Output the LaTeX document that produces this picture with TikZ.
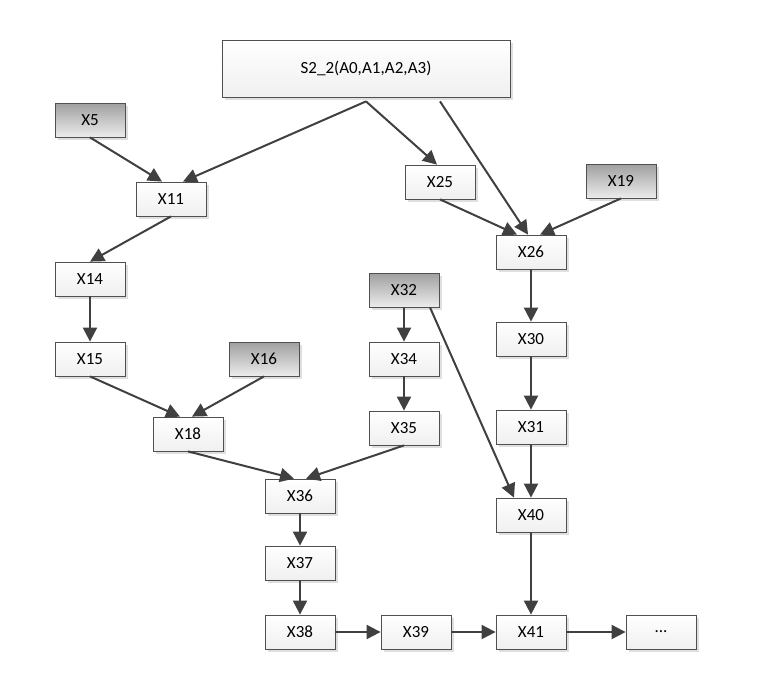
\documentclass[tikz,border=0pt]{standalone}
\usepackage{fontspec}
\setmainfont{Carlito}
\usetikzlibrary{arrows.meta,shadows}
\definecolor{edge}{HTML}{404040}
\definecolor{bord}{HTML}{505050}
\tikzset{
  x=1pt,y=-1pt,
  wbox/.style={draw=bord,line width=0.8pt,minimum width=70pt,minimum height=34pt,inner sep=0pt,
    top color=white,bottom color=gray!12,font=\fontsize{17}{20}\selectfont,
    drop shadow={shadow xshift=2.5pt,shadow yshift=-2.5pt,fill=gray!50,opacity=0.5}},
  gbox/.style={wbox,top color=gray!75,bottom color=gray!15},
  conn/.style={draw=edge,line width=2pt,-{Triangle[length=14pt,width=14pt]}}
}
\begin{document}
\begin{tikzpicture}
\useasboundingbox (0,0) rectangle (764,678);
\node[wbox,minimum width=288pt,minimum height=57pt] (s) at (366,68.5) {S2\_2(A0,A1,A2,A3)};
\node[gbox] (x5) at (90,120) {X5};
\node[wbox] (x11) at (171,199) {X11};
\node[wbox] (x25) at (440,182) {X25};
\node[gbox] (x19) at (621,181) {X19};
\node[wbox] (x26) at (531,252) {X26};
\node[wbox] (x14) at (90,279) {X14};
\node[gbox] (x32) at (404,290) {X32};
\node[wbox] (x30) at (531,339) {X30};
\node[wbox] (x15) at (90,359) {X15};
\node[gbox] (x16) at (264,359) {X16};
\node[wbox] (x34) at (404,359) {X34};
\node[wbox] (x18) at (188,434) {X18};
\node[wbox] (x35) at (404,428) {X35};
\node[wbox] (x31) at (531,427) {X31};
\node[wbox] (x36) at (300,496) {X36};
\node[wbox] (x40) at (531,515) {X40};
\node[wbox] (x37) at (300,563) {X37};
\node[wbox] (x38) at (300,632) {X38};
\node[wbox] (x39) at (416,632) {X39};
\node[wbox] (x41) at (531,632) {X41};
\node[wbox] (dots) at (661,632) {...};

\draw[conn] ([yshift=-4pt]s.south) -- ([xshift=12pt]x11.north);
\draw[conn] ([yshift=-4pt]s.south) -- ([xshift=-3pt]x25.north);
\draw[conn] ([xshift=74pt,yshift=-4pt]s.south) -- ([xshift=-3pt]x26.north);
\draw[conn] (x5.south) -- ([xshift=-9pt]x11.north);
\draw[conn] (x11.south) -- (x14.north);
\draw[conn] (x25.south) -- ([xshift=-14pt]x26.north);
\draw[conn] (x19.south) -- ([xshift=9pt]x26.north);
\draw[conn] (x14.south) -- (x15.north);
\draw[conn] (x26.south) -- (x30.north);
\draw[conn] (x30.south) -- (x31.north);
\draw[conn] (x31.south) -- (x40.north);
\draw[conn] (x32.south) -- (x34.north);
\draw[conn] ([xshift=26pt]x32.south) -- ([xshift=-17pt]x40.north);
\draw[conn] (x34.south) -- (x35.north);
\draw[conn] (x15.south) -- ([xshift=-8pt]x18.north);
\draw[conn] (x16.south) -- ([xshift=4pt]x18.north);
\draw[conn] (x18.south) -- ([xshift=-6pt]x36.north);
\draw[conn] (x35.south) -- ([xshift=6pt]x36.north);
\draw[conn] (x36.south) -- (x37.north);
\draw[conn] (x37.south) -- (x38.north);
\draw[conn] (x38.east) -- (x39.west);
\draw[conn] (x39.east) -- (x41.west);
\draw[conn] (x41.east) -- (dots.west);
\draw[conn] (x40.south) -- (x41.north);
\end{tikzpicture}
\end{document}
